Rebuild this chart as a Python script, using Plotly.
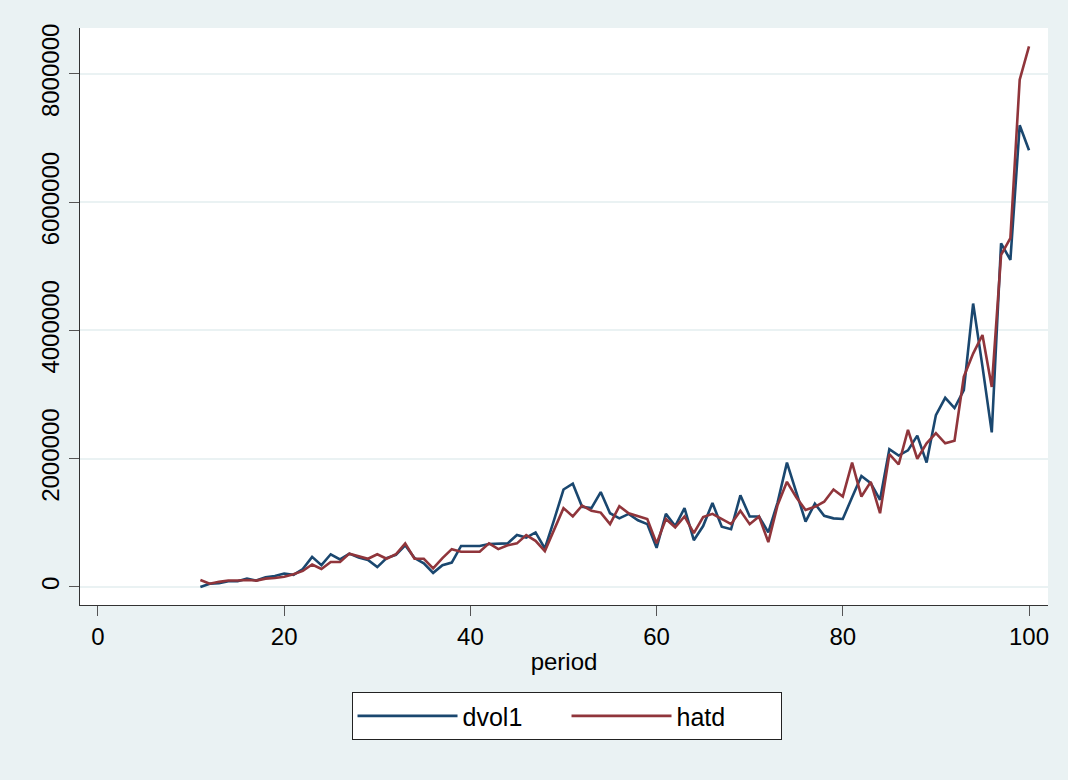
import plotly.graph_objects as go

# period index and the two series (observed volume and fitted values)
period = list(range(11, 101))

dvol1 = [
    0, 50000, 60000, 90000, 90000, 130000, 100000, 150000, 170000, 210000,
    190000, 280000, 470000, 340000, 510000, 430000, 520000, 460000, 420000, 310000,
    450000, 500000, 650000, 450000, 370000, 220000, 340000, 380000, 640000, 640000,
    640000, 670000, 680000, 680000, 810000, 770000, 850000, 600000, 1050000, 1520000,
    1610000, 1250000, 1230000, 1480000, 1150000, 1070000, 1140000, 1040000, 980000, 610000,
    1140000, 950000, 1230000, 730000, 950000, 1310000, 940000, 900000, 1430000, 1100000,
    1100000, 850000, 1320000, 1940000, 1480000, 1020000, 1300000, 1110000, 1070000, 1060000,
    1400000, 1730000, 1620000, 1360000, 2150000, 2050000, 2130000, 2360000, 1940000, 2680000,
    2950000, 2790000, 3070000, 4420000, 3440000, 2410000, 5360000, 5100000, 7200000, 6810000,
]

hatd = [
    110000, 50000, 80000, 100000, 100000, 110000, 100000, 130000, 140000, 160000,
    200000, 250000, 350000, 280000, 390000, 390000, 520000, 480000, 440000, 510000,
    440000, 510000, 680000, 440000, 440000, 290000, 450000, 590000, 550000, 550000,
    550000, 680000, 590000, 650000, 680000, 810000, 720000, 560000, 890000, 1230000,
    1100000, 1270000, 1190000, 1160000, 980000, 1260000, 1150000, 1110000, 1060000, 680000,
    1060000, 930000, 1100000, 840000, 1090000, 1140000, 1060000, 980000, 1190000, 980000,
    1100000, 700000, 1280000, 1640000, 1400000, 1200000, 1250000, 1330000, 1520000, 1410000,
    1940000, 1410000, 1640000, 1150000, 2070000, 1910000, 2450000, 2000000, 2240000, 2400000,
    2240000, 2280000, 3280000, 3640000, 3930000, 3120000, 5180000, 5440000, 7910000, 8430000,
]

x_ticks = [0, 20, 40, 60, 80, 100]
y_ticks = [0, 2000000, 4000000, 6000000, 8000000]

NAVY = "#1A476F"
MAROON = "#90353B"
BG = "#EAF2F3"
FONT = "Liberation Sans, Arial, sans-serif"

fig = go.Figure()
fig.add_trace(go.Scatter(x=period, y=dvol1, mode="lines", name="dvol1",
                         line=dict(color=NAVY, width=2.6)))
fig.add_trace(go.Scatter(x=period, y=hatd, mode="lines", name="hatd",
                         line=dict(color=MAROON, width=2.6)))

fig.update_layout(
    width=1068, height=780,
    margin=dict(l=80, r=20, t=28, b=175),
    paper_bgcolor=BG,
    plot_bgcolor="white",
    font=dict(family=FONT, size=24, color="black"),
    showlegend=True,
    legend=dict(
        orientation="h",
        x=0.5026, xanchor="center",
        y=-0.151, yanchor="top",
        bgcolor="white",
        bordercolor="#222222", borderwidth=1,
        font=dict(size=25),
        itemwidth=100,
        entrywidth=99, entrywidthmode="pixels",
        tracegroupgap=0,
    ),
)

fig.update_xaxes(
    range=[-1.93, 102.04],
    tickvals=x_ticks,
    ticks="outside", ticklen=10, tickcolor="#555555", tickwidth=1,
    showline=True, linecolor="#333333", linewidth=1,
    showgrid=False, zeroline=False,
    title=dict(text="period", font=dict(size=24), standoff=4),
    tickfont=dict(size=24),
)
fig.update_yaxes(
    range=[-281000, 8717000],
    tickvals=y_ticks,
    ticktext=[str(v) for v in y_ticks],
    tickangle=-90,
    ticks="outside", ticklen=10, tickcolor="#555555", tickwidth=1,
    showline=True, linecolor="#333333", linewidth=1,
    showgrid=True, gridcolor=BG, gridwidth=2,
    zeroline=False,
    tickfont=dict(size=24),
)

fig.write_html("out.html")
